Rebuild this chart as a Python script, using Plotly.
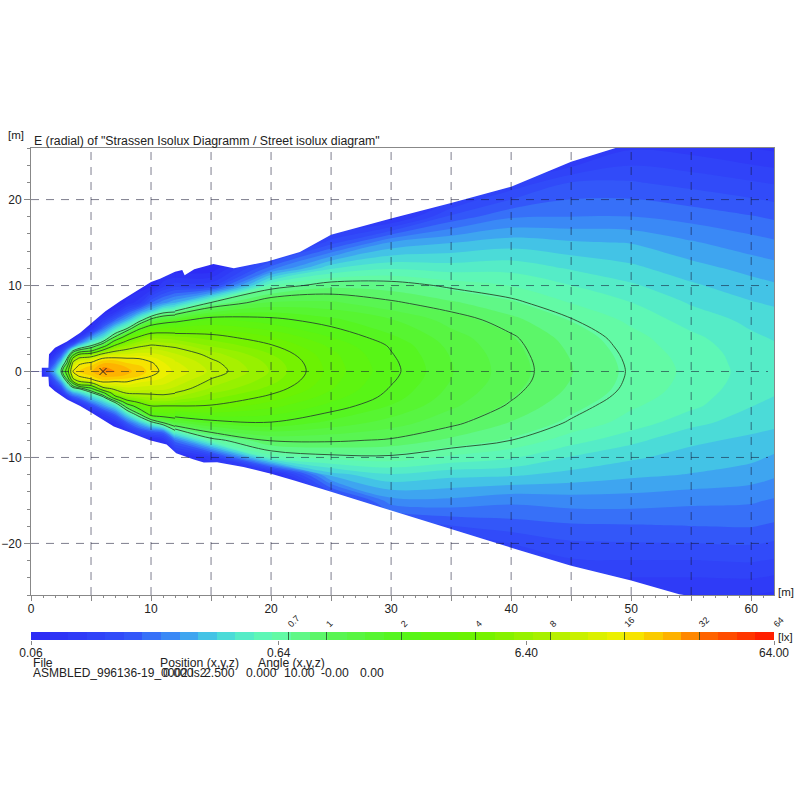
import numpy as np
import plotly.graph_objects as go

o = 0.065  # below the first band, beam edge / outside

# far field, x from 12 m
far_x = [12, 15, 20, 25, 30, 35, 40, 45, 50, 55, 60, 62]
far_y = [26, 22, 18, 15, 12, 10, 8, 6, 4, 3, 2, 1, 0, -1, -2, -3, -4, -6, -8, -10, -12, -15, -18, -22, -26]
far_lux_by_column = [
    [o]*4 + [o, .12, .3, 1.75, 5, 7.6, 9.8, 11.8, 13, 11.2, 9.2, 6.8, 4, 1.35, .2, .068, o] + [o]*4,
    [o]*4 + [.066, .12, .72, 2.4, 4.4, 5.6, 7.4, 8.6, 9.2, 7.8, 6.6, 5.1, 3.9, 1.75, .62, .1, o] + [o]*4,
    [o]*4 + [.2, .6, 1.25, 2.15, 3.4, 4.1, 4.8, 5.4, 5.6, 5.2, 4.5, 3.75, 3.05, 1.95, 1.03, .55, .07] + [o]*4,
    [o]*3 + [.14, .42, .8, 1.25, 1.78, 2.4, 2.75, 3.0, 3.1, 3.15, 3.05, 2.9, 2.6, 2.25, 1.6, 1.04, .65, .33, .1] + [o]*3,
    [o]*2 + [.08, .26, .5, .78, 1.04, 1.45, 1.76, 1.95, 2.03, 2.1, 2.13, 2.06, 1.96, 1.85, 1.68, 1.32, .97, .67, .42, .24, .12] + [o]*2,
    [o]*2 + [.16, .3, .47, .67, .88, 1.12, 1.3, 1.36, 1.41, 1.44, 1.45, 1.43, 1.38, 1.32, 1.25, 1.05, .82, .58, .38, .245, .15] + [o]*2,
    [o, .11, .21, .33, .48, .6, .74, .9, 1.03, 1.06, 1.08, 1.095, 1.1, 1.09, 1.06, 1.02, .97, .84, .7, .52, .37, .225, .165, .1, o],
    [.07, .152, .215, .31, .42, .51, .6, .71, .79, .82, .84, .855, .86, .85, .83, .8, .76, .68, .55, .42, .34, .235, .175, .125, .09],
    [.105, .154, .215, .3, .375, .44, .51, .58, .64, .655, .67, .68, .685, .68, .67, .65, .62, .56, .45, .37, .315, .235, .177, .127, .09],
    [.1, .142, .2, .26, .325, .37, .42, .47, .53, .55, .565, .575, .58, .575, .565, .55, .53, .45, .375, .335, .3, .225, .18, .127, .09],
    [.09, .13, .183, .23, .285, .325, .365, .41, .44, .455, .465, .47, .475, .47, .46, .445, .43, .39, .345, .315, .28, .22, .182, .13, .09],
    [.087, .125, .175, .22, .272, .31, .35, .39, .42, .435, .445, .45, .455, .45, .44, .425, .41, .375, .33, .295, .262, .21, .175, .125, .087],
]

# near field, finer rows around the lamp
near_x = [0, 1, 1.5, 2, 2.5, 3, 3.5, 4, 5, 6, 7, 8, 9, 10, 11, 12]
near_y = [12, 10, 8, 7, 6, 5, 4, 3.5, 3, 2.5, 2, 1.5, 1, .5, 0, -.5, -1, -1.5, -2, -2.5, -3, -3.5, -4, -5, -6, -7, -8, -10, -12]
near_lux_by_column = [
    [o]*29,
    [o]*13 + [.07, .085, .07] + [o]*13,
    [o]*11 + [.07, .1, .14, .17, .13, .09, .066] + [o]*11,
    [o]*9 + [.07, .09, .13, .18, .25, .33, .24, .17, .12, .08] + [o]*10,
    [o]*8 + [.07, .1, .16, .24, .38, .55, .72, .5, .33, .2, .13, .08] + [o]*9,
    [o]*7 + [.07, .12, .22, .38, .7, 1.0, 2, 2.8, 1.9, .9, .5, .3, .18, .09] + [o]*8,
    [o]*6 + [.066, .09, .2, .6, 1.6, 4.8, 9.5, 13, 16, 11, 6.5, 1.4, .55, .28, .16, .08] + [o]*7,
    [o]*6 + [.09, .17, .38, 1, 4, 9, 14.5, 18, 19, 17, 10, 4.6, .7, .35, .2, .12, .07] + [o]*6,
    [o]*5 + [.08, .25, .4, .7, 1.5, 5.4, 10.5, 17, 20, 22, 19, 15, 5.5, 1.7, .6, .36, .24, .14] + [o]*6,
    [o]*4 + [.1, .2, .42, .7, 1.5, 4, 9, 17, 22, 27, 28, 24, 19, 13, 6.5, 1.7, .6, .38, .26, .1] + [o]*5,
    [o]*3 + [.085, .18, .4, 1.05, 2.4, 4.3, 7, 11, 17.5, 22, 26, 27, 24, 18, 13, 8.8, 6, 3.3, .8, .42, .18, .08] + [o]*4,
    [o]*2 + [.08, .15, .3, .7, 2.8, 4.3, 5.8, 8.5, 11.5, 16.5, 19, 22.5, 24, 22, 17.5, 14, 10.5, 8.3, 5.5, 3.4, 1.3, .4, .17, .08] + [o]*3,
    [o]*2 + [.1, .24, .55, 1.85, 4.2, 5.6, 7.4, 9.7, 12.5, 16, 18, 20, 21, 19.5, 15, 12.5, 10.5, 8.4, 6.4, 4.4, 3, .9, .3, .13, .066] + [o]*2,
    [o, .07, .18, .36, 1.15, 2.8, 5.3, 6.6, 8.3, 10, 12, 14.5, 16.5, 17.5, 18, 16.2, 14, 12, 10, 8.4, 7, 5.5, 4, 2.4, .55, .17, .07] + [o]*2,
    [o, .1, .24, .58, 1.55, 3, 5.3, 6.4, 7.9, 9.4, 11, 12.5, 13.8, 14.7, 15, 14, 13, 11.5, 10, 8.6, 7.2, 5.6, 4, 2.6, .95, .2, .09] + [o]*2,
    [o, .12, .3, .65, 1.75, 3.1, 5, 6.2, 7.6, 8.6, 9.8, 11, 11.8, 12.6, 13, 12.3, 11.2, 10.2, 9.2, 8.1, 6.8, 5.4, 4, 2.7, 1.35, .62, .2, .068, o],
]

# limits of the lit area
top_edge_x = [0.9, 1.45, 1.5, 2.0, 3.0, 4.1, 5.05, 6.2, 7.45, 8.9, 10.0, 10.75, 12.0, 12.6, 12.8, 13.6, 15.2, 16.9, 19.7, 22.4, 25, 30, 35, 40, 45, 48.7]
top_edge_y = [0.45, 0.45, 2.0, 2.75, 3.5, 4.5, 5.65, 7.0, 8.2, 9.5, 10.4, 10.8, 11.6, 11.8, 11.2, 11.9, 12.5, 12.0, 12.8, 13.9, 15.9, 17.8, 19.6, 21.5, 24.4, 26]
bottom_edge_x = [0.9, 1.45, 1.5, 2, 3, 4.1, 5.05, 6, 6.9, 8.25, 9.9, 11.3, 12.1, 13.5, 14.4, 15.5, 17.7, 20, 22, 25, 30.75, 35, 40, 45, 50, 54, 54.4]
bottom_edge_y = [-0.6, -0.6, -1.7, -2.3, -3.25, -4, -4.8, -5.6, -6.4, -7.1, -8, -8.5, -9.5, -10.2, -10.6, -10.55, -11.1, -11.9, -12.7, -14, -16.5, -18.4, -20.5, -22.6, -24.3, -25.9, -26]

contour_levels = [0.7, 1, 2, 4, 8, 16]
grid_x = [5, 10, 15, 20, 25, 30, 35, 40, 45, 50, 55, 60]
grid_y = [-20, -10, 0, 10, 20]
peak_x, peak_y = [6], [0]
x_ticks = [0, 5, 10, 15, 20, 25, 30, 35, 40, 45, 50, 55, 60]
x_tick_text = ["0", "", "10", "", "20", "", "30", "", "40", "", "50", "", "60"]
y_ticks = [-20, -10, 0, 10, 20]
scale_min, scale_max = 0.064, 64
scale_marks = [0.7, 1, 2, 4, 8, 16, 32, 64]
scale_values = [0.064, 0.64, 6.4, 64]
scale_text = ["0.06", "0.64", "6.40", "64.00"]

N_BANDS = 40
cmin, cmax = np.log10(scale_min), np.log10(scale_max)
colorscale = [
    [0.00, "rgb(45,40,245)"], [0.13, "rgb(50,80,250)"], [0.20, "rgb(60,150,245)"],
    [0.25, "rgb(70,210,225)"], [0.30, "rgb(90,245,190)"], [0.333, "rgb(100,250,170)"],
    [0.40, "rgb(90,245,90)"], [0.50, "rgb(85,245,25)"], [0.60, "rgb(110,242,0)"],
    [0.70, "rgb(175,240,0)"], [0.80, "rgb(245,240,0)"], [0.87, "rgb(255,170,0)"],
    [0.90, "rgb(255,110,0)"], [1.00, "rgb(255,20,0)"],
]
FONT = "Liberation Sans"
INK = "#222222"
AXC = "#888888"
LINE = "#2a4a2a"


def log_matrix(columns):
    return np.log10(np.clip(np.array(columns, dtype=float).T, o, 64))


far_z = log_matrix(far_lux_by_column)
near_z = log_matrix(near_lux_by_column)
fig = go.Figure()
for xs, ys, zz in [(far_x, far_y, far_z), (near_x, near_y, near_z)]:
    fig.add_trace(go.Contour(x=xs, y=ys, z=zz, zmin=cmin, zmax=cmax, colorscale=colorscale, showscale=False,
                             contours=dict(coloring="fill", start=cmin, end=cmax, size=(cmax-cmin)/N_BANDS, showlines=False),
                             line=dict(width=0, smoothing=1.0), hoverinfo="skip"))
for xs, ys, zz in [(far_x, far_y, far_z), (near_x, near_y, near_z)]:
    for lv in np.log10(contour_levels):
        fig.add_trace(go.Contour(x=xs, y=ys, z=zz, showscale=False, autocontour=False,
                                 colorscale=[[0, LINE], [1, LINE]],
                                 contours=dict(coloring="lines", start=lv, end=lv, size=1),
                                 line=dict(width=0.9, color=LINE, smoothing=1.0), hoverinfo="skip"))
# white outside the lit area
fig.add_trace(go.Scatter(x=[0, 0.9] + top_edge_x + [0], y=[0.0, 0.0] + top_edge_y + [26], mode="lines", fill="toself",
                         fillcolor="white", line=dict(width=0), hoverinfo="skip", showlegend=False))
fig.add_trace(go.Scatter(x=[0, 0.9] + bottom_edge_x + [0], y=[0.0, 0.0] + bottom_edge_y + [-26], mode="lines", fill="toself",
                         fillcolor="white", line=dict(width=0), hoverinfo="skip", showlegend=False))
# dashed grid above the map
gx, gy = [], []
for v in grid_x:
    gx += [v, v, None]; gy += [-26, 26, None]
for v in grid_y:
    gx += [0, 61.4, None]; gy += [v, v, None]
fig.add_trace(go.Scatter(x=gx, y=gy, mode="lines", line=dict(color="rgba(20,20,50,0.55)", width=1, dash="8px,7px"),
                         hoverinfo="skip", showlegend=False))
fig.add_trace(go.Scatter(x=peak_x, y=peak_y, mode="markers", marker=dict(symbol="x-thin", size=7, line=dict(color="#222", width=1)),
                         hoverinfo="skip", showlegend=False))
# colour scale bar
edges = np.linspace(cmin, cmax, N_BANDS + 1)
mids = (edges[:-1] + edges[1:]) / 2
fig.add_trace(go.Heatmap(x=edges, y=[0, 1], z=[mids], zmin=cmin, zmax=cmax, colorscale=colorscale, showscale=False,
                         xaxis="x2", yaxis="y2", hoverinfo="skip"))
fig.add_trace(go.Scatter(x=[None], y=[None], xaxis="x3", yaxis="y2", showlegend=False))

W = 800.0
tick_font = dict(family=FONT, size=12, color=INK)
fig.update_layout(
    width=800, height=800, autosize=False, margin=dict(l=0, r=0, t=0, b=0),
    paper_bgcolor="white", plot_bgcolor="white", showlegend=False, font=tick_font,
    xaxis=dict(domain=[31/W, 774/W], range=[0, 61.9], anchor="y", tickvals=x_ticks, ticktext=x_tick_text, ticks="outside",
               ticklen=5, tickcolor=AXC, showgrid=False, zeroline=False, showline=True, linecolor=AXC, mirror=True,
               automargin=False, ticklabelstandoff=-2,
               tickfont=tick_font, minor=dict(dtick=1, ticks="outside", ticklen=2, tickcolor=AXC)),
    yaxis=dict(domain=[(800-595)/W, (800-148)/W], range=[-26, 26], anchor="x", tickvals=y_ticks, ticks="outside",
               ticklen=6, tickcolor=AXC, showgrid=False, zeroline=False, showline=True, linecolor=AXC, mirror=True,
               automargin=False,
               tickfont=tick_font, minor=dict(dtick=2, ticks="outside", ticklen=3, tickcolor=AXC)),
    xaxis2=dict(domain=[31/W, 774/W], range=[cmin, cmax], anchor="y2", side="top", tickvals=np.log10(scale_marks).tolist(),
                ticktext=[str(v) for v in scale_marks], ticks="inside", ticklen=8, tickcolor="rgba(30,60,30,0.75)", tickangle=-45,
                automargin=False,
                tickfont=dict(family=FONT, size=9, color=INK), showgrid=False, zeroline=False, showline=False),
    xaxis3=dict(domain=[31/W, 774/W], range=[cmin, cmax], anchor="y2", overlaying="x2", side="bottom",
                tickvals=np.log10(scale_values).tolist(), ticktext=scale_text, ticks="outside", ticklen=4, tickcolor=AXC,
                automargin=False, ticklabelstandoff=-2,
                tickfont=tick_font, showgrid=False, zeroline=False, showline=False),
    yaxis2=dict(domain=[(800-640)/W, (800-632)/W], range=[0, 1], anchor="x2", showticklabels=False, ticks="",
                automargin=False, showgrid=False, zeroline=False, showline=False),
)


def label(px, py, text, size=12.2, anchor="left"):
    fig.add_annotation(x=px/W, y=1-py/W, xref="paper", yref="paper", text=text, showarrow=False, xanchor=anchor, yanchor="middle",
                       font=dict(family=FONT, size=size, color=INK), borderpad=0, align="left")


label(7, 135, "[m]", 11.5)
label(33, 141, 'E (radial) of "Strassen Isolux Diagramm / Street isolux diagram"', 12.3)
label(777, 592, "[m]", 11.5)
label(777, 637, "[lx]", 11.5)
label(32, 663, "File")
label(159, 663, "Position (x,y,z)")
label(257, 663, "Angle (x,y,z)")
label(32, 673, "ASMBLED_996136-19_0002.ls2", 12)
for px, t in [(162, "0.000"), (203, "2.500"), (245, "0.000"), (283, "10.00"), (320, "-0.00"), (359, "0.00")]:
    label(px, 673, t)

fig.write_html("out.html", config=dict(displayModeBar=False),
               post_script="document.body.style.margin='0';document.body.style.overflow='hidden';")
